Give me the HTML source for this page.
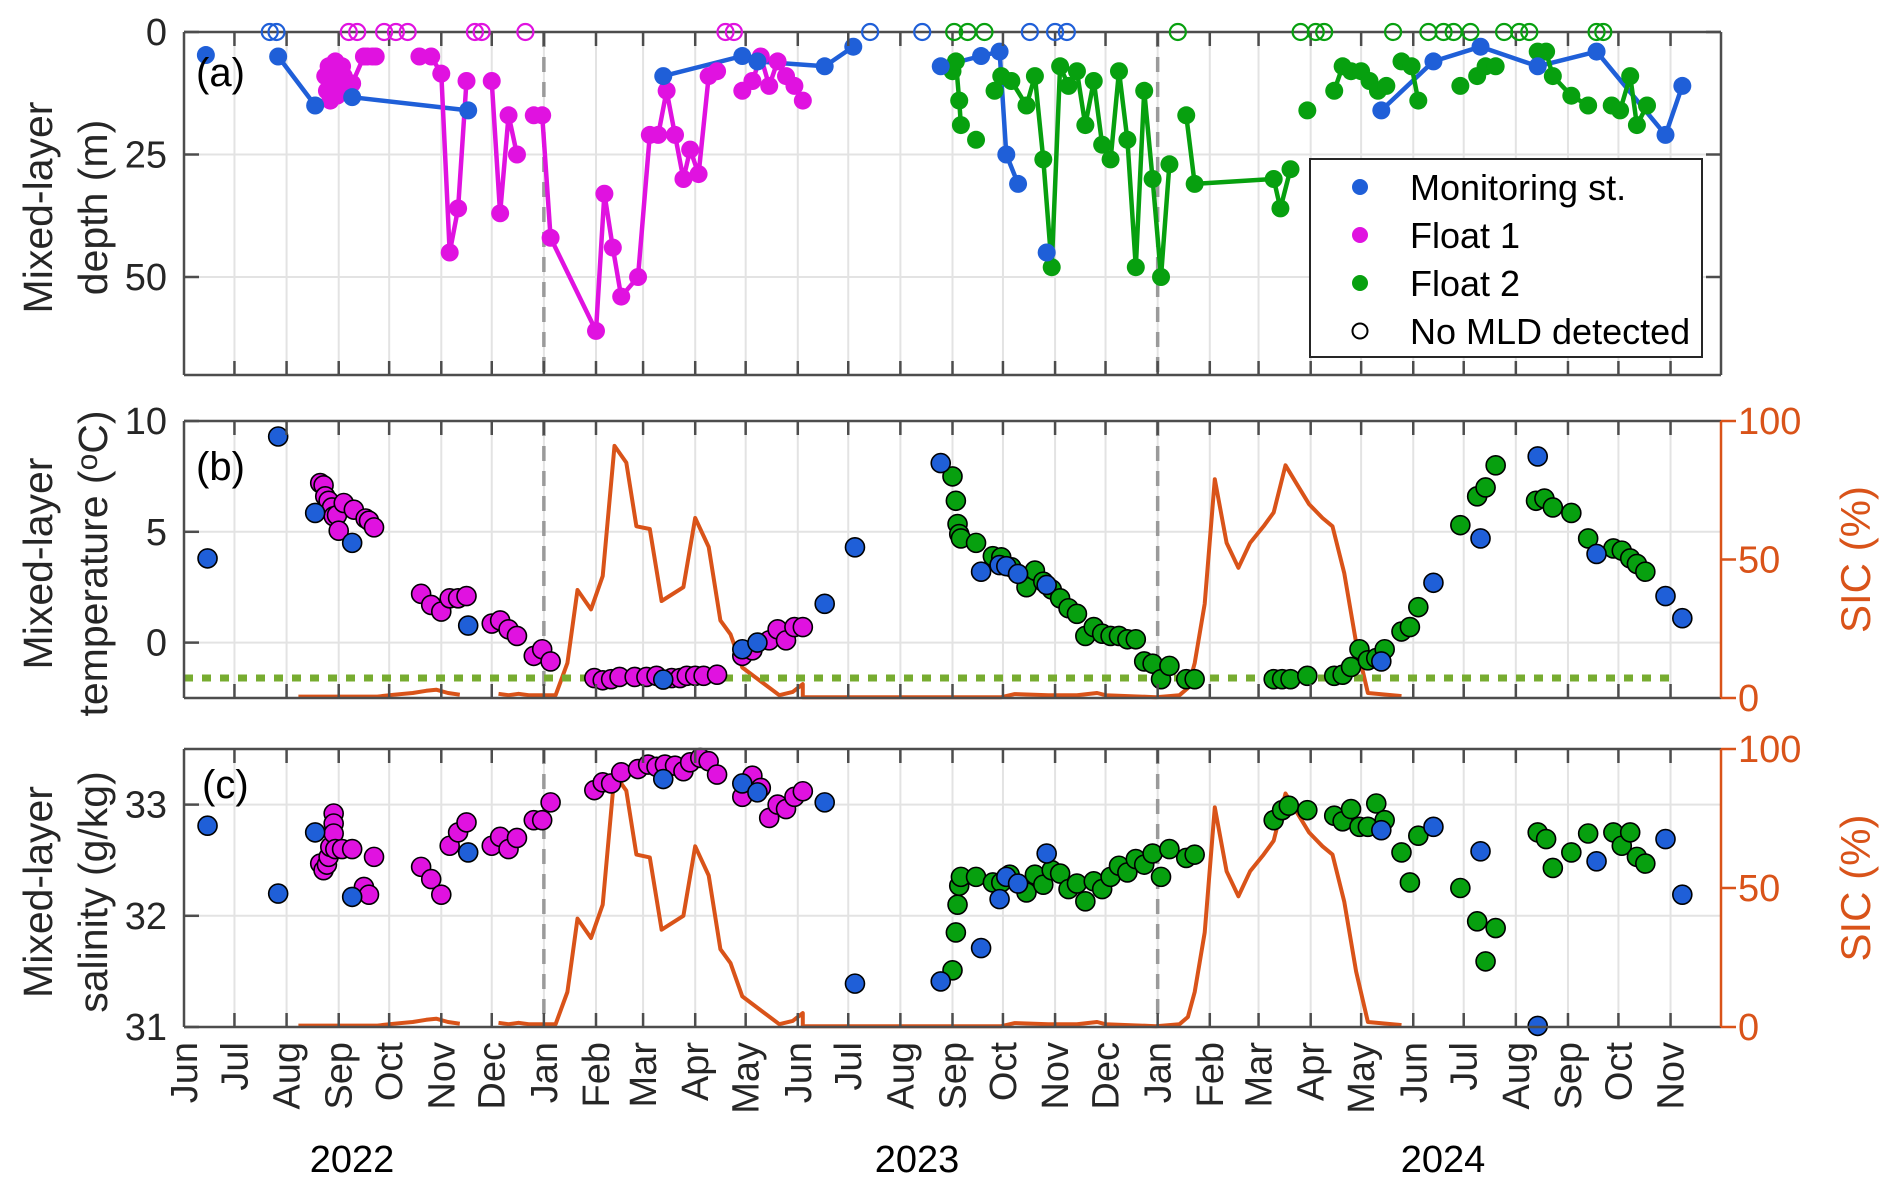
<!DOCTYPE html>
<html><head><meta charset="utf-8"><style>
html,body{margin:0;padding:0;background:#fff;}
svg{display:block;font-family:"Liberation Sans",Arial,sans-serif;}
</style></head><body>
<svg id="chart" width="1892" height="1189" viewBox="0 0 1892 1189" xmlns="http://www.w3.org/2000/svg"></svg>
<script>
// ---- data (days since 2022-06-01) ----
const monthLabels = ["Jun","Jul","Aug","Sep","Oct","Nov","Dec","Jan","Feb","Mar","Apr","May","Jun","Jul","Aug","Sep","Oct","Nov","Dec","Jan","Feb","Mar","Apr","May","Jun","Jul","Aug","Sep","Oct","Nov"];
const yearLabels = ["2022","2023","2024"];
const depthTicks = [0,25,50];
const tempTicks = [0,5,10];
const salTicks = [31,32,33];
const sicTicks = [0,50,100];

const blueA_day = [13,56,78,100,169,285,332,341,381,398,450,474,485,489,496,513,712,743,771,805,840,881,891];
const blueA_mld = [4.7,5,15,13.3,16,9,4.9,6,7,3,7,4.9,4,25,31,45,16,6,3,7,4,21,11];
const blueA_seg = [0,1,1,1,1,2,2,2,2,2,3,3,3,3,3,4,5,5,5,5,5,5,5];

const magA_day = [84,85,86,87,88,89,90,91,92,93,94,95,100,107,109,112,114,140,147,153,158,163,168,183,188,193,198,208,213,218,245,250,255,260,270,277,282,287,292,297,301,306,312,317,332,338,343,348,353,358,363,368];
const magA_mld = [9,12,7,14,10,11,6,13,8,12,7,9,10.5,5,5,5,5,5,5,8.5,45,36,10,10,37,17,25,17,17,42,61,33,44,54,50,21,21,12,21,30,24,29,9,8,12,10,5,11,6,9,11,14];
const magA_seg = [0,0,0,0,0,0,0,0,0,0,0,0,0,0,0,0,0,1,1,1,1,1,1,2,2,2,2,3,3,3,3,3,3,3,3,3,3,3,3,3,3,3,3,3,4,4,4,4,4,4,4,4];

const grnA_day = [457,459,461,462,471,482,486,492,501,506,511,516,521,526,531,536,541,546,551,556,561,566,571,576,581,586,596,601,648,652,658,668,684,689,694,700,705,710,715,724,730,734,759,769,774,780,805,810,814,825,835,849,854,860,864,870];
const grnA_mld = [8,6,14,19,22,12,9,10,15,9,26,48,7,11,8,19,10,23,26,8,22,48,12,30,50,27,17,31,30,36,28,16,12,7,8,8,10,12,11,6,7,14,11,9,7,7,4,4,9,13,15,15,16,9,19,15];
const grnA_seg = [0,0,0,0,-1,-2,2,2,2,2,2,2,2,2,2,2,2,2,2,2,2,2,2,2,2,2,3,3,3,3,3,-3,4,4,4,4,4,4,4,5,5,5,-4,6,6,6,7,7,7,7,7,8,8,8,8,8];

const noBlue_day = [51,55,408,439,503,518,525];
const noMag_day = [98,103,119,126,133,173,177,203,322,327];
const noGrn_day = [458,466,476,591,664,673,678,719,740,749,755,765,785,794,800,840,844];

const blue_day = [14,56,78,100,169,285,332,341,381,399,450,474,485,489,496,513,712,743,771,805,840,881,891];
const blue_T = [3.8,9.3,5.85,4.5,0.77,-1.67,-0.3,0,1.75,4.3,8.1,3.2,3.5,3.45,3.1,2.6,-0.85,2.7,4.7,8.4,4.0,2.1,1.1];
const blue_S = [32.81,32.2,32.75,32.17,32.57,33.23,33.19,33.11,33.02,31.39,31.41,31.71,32.15,32.35,32.29,32.56,32.77,32.8,32.58,31.01,32.49,32.69,32.19];

const magT_day = [81,83,84,86,88,89,91,92,95,101,108,110,113,141,147,153,158,163,168,183,188,193,198,208,213,218,244,249,254,259,268,275,281,290,295,299,304,309,317,332,338,348,353,358,363,368];
const mag_T = [7.2,7.1,6.6,6.4,6.1,5.7,5.75,5.05,6.3,6.0,5.6,5.5,5.2,2.2,1.7,1.4,2.0,2.0,2.1,0.86,1.0,0.6,0.3,-0.6,-0.3,-0.85,-1.6,-1.7,-1.65,-1.55,-1.55,-1.55,-1.5,-1.6,-1.6,-1.5,-1.5,-1.5,-1.45,-0.6,-0.35,0.1,0.6,0.1,0.7,0.7];
const magS_day = [81,83,85,86,87,89,89,89,90,94,100,107,110,113,141,147,153,158,163,168,183,188,193,198,208,213,218,244,249,254,260,270,276,281,286,292,297,301,307,312,317,332,338,343,348,353,358,363,368];
const mag_S = [32.47,32.41,32.46,32.53,32.62,32.92,32.83,32.74,32.6,32.6,32.6,32.26,32.19,32.53,32.44,32.33,32.19,32.63,32.75,32.84,32.63,32.71,32.6,32.7,32.86,32.86,33.02,33.13,33.2,33.19,33.29,33.32,33.36,33.34,33.36,33.35,33.3,33.38,33.42,33.39,33.27,33.07,33.26,33.15,32.88,33.0,32.96,33.07,33.12];

const grnT_day = [457,459,460,461,462,471,481,486,492,501,506,511,516,521,526,531,536,541,546,551,556,561,566,571,576,581,586,596,601,648,653,658,668,684,689,694,699,704,709,714,724,729,734,759,769,774,780,804,809,814,825,835,850,855,860,864,869];
const grn_T = [7.5,6.4,5.35,4.9,4.7,4.5,3.9,3.85,3.4,2.5,3.25,2.75,2.4,2.0,1.55,1.3,0.3,0.7,0.4,0.3,0.3,0.15,0.15,-0.85,-0.95,-1.65,-1.05,-1.65,-1.65,-1.65,-1.65,-1.65,-1.5,-1.5,-1.45,-1.1,-0.3,-0.8,-0.7,-0.3,0.5,0.7,1.6,5.3,6.6,7.0,8.0,6.4,6.5,6.1,5.85,4.7,4.25,4.15,3.8,3.55,3.2];
const grnS_day = [457,459,460,461,462,471,481,486,491,501,506,511,516,521,526,531,536,541,546,551,556,561,566,571,576,581,586,596,601,648,653,657,668,684,689,694,699,704,709,714,724,729,734,759,769,774,780,805,810,814,825,835,850,855,860,864,869];
const grn_S = [31.51,31.85,32.1,32.27,32.35,32.35,32.3,32.3,32.37,32.21,32.37,32.28,32.41,32.38,32.24,32.29,32.13,32.31,32.24,32.35,32.45,32.39,32.51,32.46,32.56,32.35,32.6,32.52,32.55,32.86,32.95,32.99,32.95,32.9,32.85,32.96,32.8,32.8,33.01,32.86,32.57,32.3,32.72,32.25,31.95,31.59,31.89,32.75,32.69,32.43,32.57,32.74,32.75,32.63,32.75,32.53,32.47];

const sic_day = [68,115,125,136,144,150,157,164,null,187,193,199,205,221,228,234,242,249,256,263,269,277,284,297,304,312,319,325,332,354,362,368,368,486,494,514,531,543,548,578,592,597,601,607,613,620,627,634,642,648,655,662,669,677,683,690,697,704,724];
const sic_val = [0.5,0.5,1.2,1.8,2.6,3,1.8,1.2,null,1.5,1,1.5,1,1,12.6,39,32,44,91,85,62,61,35,40,65,54.5,28,23,11,1,2.2,5,0.3,0.3,1.4,1,1,1.8,1,0.3,1,3.6,12.6,34,79,56,47,56,62,67,84,77,70,65,62,45,20,1.8,0.7];

const freezeT = -1.6;
const freezeEndDay = 884;
const yearLineDays = [214,579];

// ---- layout ----
const X0 = 184, X1 = 1721, NDAYS = 914;
const PA = {top:32, bot:375, min:0, max:70, inv:true};
const PB = {top:421, bot:698, min:-2.5, max:10};
const PC = {top:749, bot:1027, min:31, max:33.5};
const BLUE="#1f5fd8", MAG="#e012e0", GRN="#07a00f", ORG="#d95319", FRZ="#77ac30";
const svg = document.getElementById('chart');
const NS = "http://www.w3.org/2000/svg";
function xs(d){ return X0 + d*(X1-X0)/NDAYS; }
function ys(p,v){ return p.inv ? p.top + (v-p.min)/(p.max-p.min)*(p.bot-p.top) : p.bot - (v-p.min)/(p.max-p.min)*(p.bot-p.top); }
function ysic(p,v){ return p.bot - v/100*(p.bot-p.top); }
function el(tag, attrs, parent){ const e=document.createElementNS(NS,tag); for(const k in attrs) e.setAttribute(k,attrs[k]); (parent||svg).appendChild(e); return e; }
function txt(s, attrs, parent){ const e=el('text',attrs,parent); e.textContent=s; return e; }
const monthDays = [];
for(let i=0;i<=30;i++){ monthDays.push(Math.round((Date.UTC(2022,5+i,1)-Date.UTC(2022,5,1))/86400000)); }

function panelFrame(p, name){
  const g = el('g',{});
  
  
  for(const d of monthDays.slice(1,30)){
    el('line',{x1:xs(d),x2:xs(d),y1:p.top,y2:p.bot,stroke:"#e3e3e3","stroke-width":2},g);
  }
  return g;
}
function hGrid(p, vals, g){ for(const v of vals){ const y=ys(p,v); if(y>p.top+1&&y<p.bot-1) el('line',{x1:X0,x2:X1,y1:y,y2:y,stroke:"#e3e3e3","stroke-width":2},g);} }
function yearLines(p, name){
  for(const d of yearLineDays){
    const l = el('line',{x1:xs(d),x2:xs(d),y1:p.top,y2:p.bot,stroke:"#9a9a9a","stroke-width":3.5,"stroke-dasharray":"15,10"});
    
    
  }
}
function axesBox(p, name, rightOrange){
  const g = el('g',{});
  
  
  el('line',{x1:X0,x2:X1,y1:p.top,y2:p.top,stroke:"#4d4d4d","stroke-width":2.5},g);
  el('line',{x1:X0,x2:X1,y1:p.bot,y2:p.bot,stroke:"#4d4d4d","stroke-width":2.5},g);
  el('line',{x1:X0,x2:X0,y1:p.top,y2:p.bot,stroke:"#4d4d4d","stroke-width":2.5},g);
  el('line',{x1:X1,x2:X1,y1:p.top,y2:p.bot,stroke:rightOrange?ORG:"#4d4d4d","stroke-width":2.5},g);
  for(const d of monthDays.slice(1,30)){
    el('line',{x1:xs(d),x2:xs(d),y1:p.bot,y2:p.bot-14,stroke:"#4d4d4d","stroke-width":2.5},g);
    el('line',{x1:xs(d),x2:xs(d),y1:p.top,y2:p.top+14,stroke:"#4d4d4d","stroke-width":2.5},g);
  }
  return g;
}
function yTicks(p, vals, name, right){
  for(const v of vals){
    const y=ys(p,v);
    el('line',{x1:X0,x2:X0+15,y1:y,y2:y,stroke:"#4d4d4d","stroke-width":2.5});
    if(right) el('line',{x1:X1,x2:X1-15,y1:y,y2:y,stroke:"#4d4d4d","stroke-width":2.5});
    const t = txt(String(v),{x:167,y:y+13,"font-size":38,"text-anchor":"end",fill:"#262626"});
    
    
  }
}
function sicAxis(p, name){
  for(const v of sicTicks){
    const y=ysic(p,v);
    el('line',{x1:X1,x2:X1+15,y1:y,y2:y,stroke:ORG,"stroke-width":2.5});
    const t = txt(String(v),{x:1738,y:y+13,"font-size":38,"text-anchor":"start",fill:ORG});
    
    
  }
  const cy=(p.top+p.bot)/2;
  const t = txt("SIC (%)",{x:1870,y:cy,"font-size":42,"text-anchor":"middle",fill:ORG,transform:`rotate(-90 1870 ${cy})`});
  
  
}
function yTitle(p, l1, l2, name){
  const cy=(p.top+p.bot)/2+4;
  const a = txt(l1,{x:52,y:cy,"font-size":41,"text-anchor":"middle",fill:"#262626",transform:`rotate(-90 52 ${cy})`});
  
  
  const b = el('text',{x:107,y:cy,"font-size":41,"text-anchor":"middle",fill:"#262626",transform:`rotate(-90 107 ${cy})`});
  
  
  if(l2.indexOf("\u00B0")>=0){
    const parts = l2.split("\u00B0");
    const t1=el('tspan',{},b); t1.textContent=parts[0];
    const t2=el('tspan',{dy:-10,"font-size":30},b); t2.textContent="o";
    const t3=el('tspan',{dy:10},b); t3.textContent=parts[1];
  } else { b.textContent=l2; }
}
function panelLabel(s, x, y, name){
  const t = txt(s,{x:x,y:y,"font-size":40,fill:"#000"});
  
  
}
function sicLine(p, name){
  let d="", pen=false;
  for(let i=0;i<sic_day.length;i++){
    if(sic_day[i]===null){ pen=false; continue; }
    d += (pen?"L":"M")+xs(sic_day[i]).toFixed(1)+","+ysic(p,sic_val[i]).toFixed(1);
    pen=true;
  }
  const path = el('path',{d:d,fill:"none",stroke:ORG,"stroke-width":4,"stroke-linejoin":"round"});
  
  
}
function segLines(p, days, vals, segs, color, name){
  const groups = {};
  for(let i=0;i<days.length;i++){ const s=segs[i]; if(s<0) continue; (groups[s]=groups[s]||[]).push([xs(days[i]),ys(p,vals[i])]); }
  for(const k in groups){
    const pts=groups[k]; if(pts.length<2) continue;
    const pl = el('polyline',{points:pts.map(q=>q[0].toFixed(1)+","+q[1].toFixed(1)).join(" "),fill:"none",stroke:color,"stroke-width":4.5,"stroke-linejoin":"round"});
    
    
  }
}
function dots(p, days, vals, color, name, edged){
  for(let i=0;i<days.length;i++){
    const c = el('circle',{cx:xs(days[i]),cy:ys(p,vals[i]),r:edged?9.5:9,fill:color,stroke:edged?"#000":"none","stroke-width":edged?1.6:0});
    
    
  }
}
function openDots(p, days, color, name){
  for(const d of days){
    const c = el('circle',{cx:xs(d),cy:p.top,r:8,fill:"none",stroke:color,"stroke-width":2.2});
    
    
  }
}

// ---- panel a ----
const ga = panelFrame(PA,'panel-a'); hGrid(PA,depthTicks,ga);
yearLines(PA,'panel-a');
segLines(PA, blueA_day, blueA_mld, blueA_seg, BLUE, 'monitoring-mld');
segLines(PA, magA_day, magA_mld, magA_seg, MAG, 'float1-mld');
segLines(PA, grnA_day, grnA_mld, grnA_seg, GRN, 'float2-mld');
dots(PA, magA_day, magA_mld, MAG, 'float1-mld', false);
dots(PA, grnA_day, grnA_mld, GRN, 'float2-mld', false);
dots(PA, blueA_day, blueA_mld, BLUE, 'monitoring-mld', false);
axesBox(PA,'panel-a',false);
yTicks(PA, depthTicks, 'depth', true);
openDots(PA, noBlue_day, BLUE, 'monitoring');
openDots(PA, noMag_day, MAG, 'float1');
openDots(PA, noGrn_day, GRN, 'float2');
yTitle(PA,"Mixed-layer","depth (m)","depth");
panelLabel("(a)",196,86,"panel-a-label");

// legend
const lg = el('g',{});


el('rect',{x:1310,y:159,width:392,height:198,fill:"#fff",stroke:"#262626","stroke-width":2},lg);
const legNames=["Monitoring st.","Float 1","Float 2","No MLD detected"];
const legCols=[BLUE,MAG,GRN,null];
for(let i=0;i<4;i++){
  const y=187+i*48;
  const e = el('g',{},lg);
  
  
  if(legCols[i]) el('circle',{cx:1360,cy:y,r:8,fill:legCols[i]},e);
  else el('circle',{cx:1360,cy:y,r:7.5,fill:"none",stroke:"#000","stroke-width":2},e);
  txt(legNames[i],{x:1410,y:y+13,"font-size":36,fill:"#000"},e);
}

// ---- panel b ----
const gb = panelFrame(PB,'panel-b'); hGrid(PB,tempTicks,gb);
yearLines(PB,'panel-b');
sicLine(PB,'panel-b');
const fz = el('line',{x1:X0,x2:xs(freezeEndDay),y1:ys(PB,freezeT),y2:ys(PB,freezeT),stroke:FRZ,"stroke-width":7,"stroke-dasharray":"9,9"});


dots(PB, magT_day, mag_T, MAG, 'float1-temperature', true);
dots(PB, grnT_day, grn_T, GRN, 'float2-temperature', true);
dots(PB, blue_day, blue_T, BLUE, 'monitoring-temperature', true);
axesBox(PB,'panel-b',true);
yTicks(PB, tempTicks, 'temperature', false);
sicAxis(PB,'panel-b');
yTitle(PB,"Mixed-layer","temperature (\u00B0C)","temperature");
panelLabel("(b)",196,480,"panel-b-label");

// ---- panel c ----
const gc = panelFrame(PC,'panel-c'); hGrid(PC,salTicks,gc);
yearLines(PC,'panel-c');
sicLine(PC,'panel-c');
dots(PC, magS_day, mag_S, MAG, 'float1-salinity', true);
dots(PC, grnS_day, grn_S, GRN, 'float2-salinity', true);
dots(PC, blue_day, blue_S, BLUE, 'monitoring-salinity', true);
axesBox(PC,'panel-c',true);
yTicks(PC, salTicks, 'salinity', false);
sicAxis(PC,'panel-c');
yTitle(PC,"Mixed-layer","salinity (g/kg)","salinity");
panelLabel("(c)",202,798,"panel-c-label");

// x labels
for(let i=0;i<monthLabels.length;i++){
  const x = xs(monthDays[i])+13, y=1042;
  const t = txt(monthLabels[i],{x:x,y:y,"font-size":38,"text-anchor":"end",fill:"#262626",transform:`rotate(-90 ${x} ${y})`});
  
  
}
const yearX=[352,917,1443];
for(let i=0;i<3;i++){
  const t = txt(yearLabels[i],{x:yearX[i],y:1172,"font-size":38,"text-anchor":"middle",fill:"#000"});
  
  
}
</script>
</body></html>
